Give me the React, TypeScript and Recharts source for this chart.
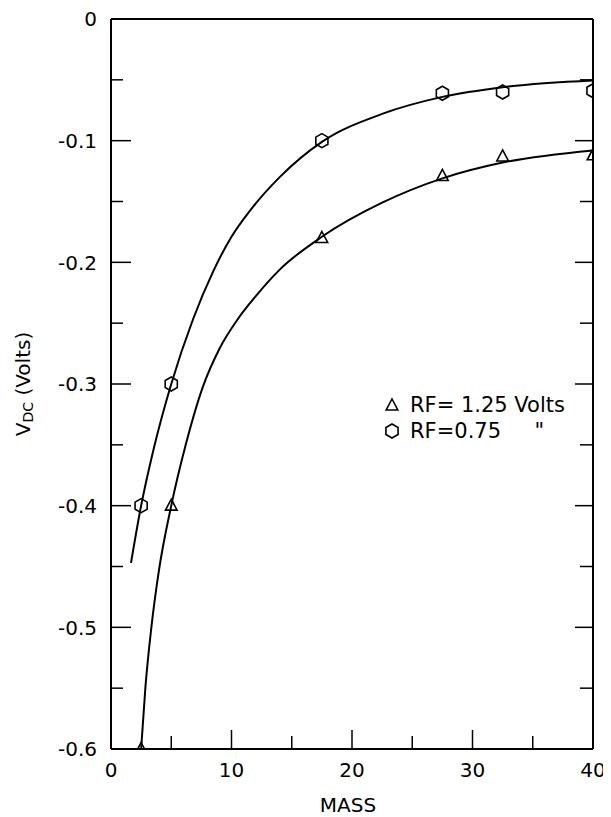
import { ComposedChart, Line, Scatter, XAxis, YAxis, Legend, Label } from 'recharts';

const FONT = '"DejaVu Sans", sans-serif';

// measured points
const MASS = [2.5, 5, 17.5, 27.5, 32.5, 40];
const VDC_RF125 = [-0.6, -0.4, -0.18, -0.129, -0.113, -0.112];
const VDC_RF075 = [-0.4, -0.3, -0.1, -0.061, -0.06, -0.059];

// hand-drawn fit curves
const FIT_RF125_MASS = [2.5, 2.85, 3.35, 3.95, 5, 6.2, 7.6, 9, 10.5, 12, 14, 17.5, 22.5, 27.5, 32.5, 40];
const FIT_RF125_VDC = [-0.6, -0.55, -0.5, -0.455, -0.4, -0.35, -0.303, -0.271, -0.247, -0.228, -0.206, -0.179, -0.151, -0.131, -0.118, -0.108];
const FIT_RF075_MASS = [1.66, 2.5, 3.5, 5, 6.8, 8.5, 10, 11.5, 14, 17.5, 22.5, 27.5, 32.5, 40];
const FIT_RF075_VDC = [-0.447, -0.4, -0.355, -0.3, -0.247, -0.207, -0.179, -0.158, -0.13, -0.101, -0.078, -0.064, -0.056, -0.0505];

const X_MAJOR = [0, 10, 20, 30, 40];
const X_MINOR = [5, 15, 25, 35];
const Y_MAJOR = [0, -0.1, -0.2, -0.3, -0.4, -0.5, -0.6];
const Y_MINOR = [-0.05, -0.15, -0.25, -0.35, -0.45, -0.55];

const SERIES_NAMES = ['RF= 1.25 Volts', 'RF=0.75     "'];

const toPoints = (xs: number[], ys: number[]) => xs.map((x, i) => ({ x, y: ys[i] }));

const Triangle = ({ cx, cy }: any) => (
  <path
    d={`M${cx},${cy - 6.5} L${cx + 5.8},${cy + 4.5} L${cx - 5.8},${cy + 4.5} Z`}
    fill="none"
    stroke="#000"
    strokeWidth={1.6}
  />
);

const Hexagon = ({ cx, cy }: any) => {
  const r = 7;
  const pts = [-90, -30, 30, 90, 150, 210]
    .map((a) => {
      const t = (a * Math.PI) / 180;
      return `${cx + r * Math.cos(t)},${cy + r * Math.sin(t)}`;
    })
    .join(' ');
  return <polygon points={pts} fill="none" stroke="#000" strokeWidth={1.6} />;
};

const isEnd = (v: number, arr: number[]) => v === arr[0] || v === arr[arr.length - 1];

const LeftTick = ({ x, y, payload }: any) => {
  const v = payload.value;
  const major = Y_MAJOR.includes(v);
  const len = major ? 20 : 12;
  return (
    <g>
      {!isEnd(v, Y_MAJOR) && <line x1={x} x2={x + len} y1={y} y2={y} stroke="#000" strokeWidth={1.5} />}
      {major && (
        <text x={x - 14} y={y} dy="0.36em" textAnchor="end" fontFamily={FONT} fontSize={20} fill="#000">
          {v === 0 ? '0' : v.toFixed(1)}
        </text>
      )}
    </g>
  );
};

const RightTick = ({ x, y, payload }: any) => {
  const v = payload.value;
  if (isEnd(v, Y_MAJOR)) return <g />;
  const len = Y_MAJOR.includes(v) ? 18 : 13;
  return <line x1={x} x2={x - len} y1={y} y2={y} stroke="#000" strokeWidth={1.5} />;
};

const BottomTick = ({ x, y, payload }: any) => {
  const v = payload.value;
  const major = X_MAJOR.includes(v);
  const len = major ? 19 : 13;
  return (
    <g>
      {!isEnd(v, X_MAJOR) && <line x1={x} x2={x} y1={y} y2={y - len} stroke="#000" strokeWidth={1.5} />}
      {major && (
        <text x={x} y={y + 28} textAnchor="middle" fontFamily={FONT} fontSize={20} fill="#000">
          {v}
        </text>
      )}
    </g>
  );
};

const TopTick = ({ x, y, payload }: any) => {
  const v = payload.value;
  const len = X_MAJOR.includes(v) ? 19 : 13;
  return <line x1={x} x2={x} y1={y} y2={y + len} stroke="#000" strokeWidth={1.5} />;
};

const MassLabel = ({ viewBox }: any) => (
  <text
    x={viewBox.x + viewBox.width / 2 - 4}
    y={viewBox.y + 63}
    textAnchor="middle"
    fontFamily={FONT}
    fontSize={20}
    fill="#000"
  >
    MASS
  </text>
);

const VdcLabel = ({ viewBox }: any) => {
  const cx = viewBox.x + 15;
  const cy = viewBox.y + viewBox.height / 2;
  return (
    <text
      x={cx}
      y={cy}
      transform={`rotate(-90 ${cx} ${cy})`}
      textAnchor="middle"
      dominantBaseline="central"
      fontFamily={FONT}
      fontSize={20}
      fill="#000"
    >
      V
      <tspan fontSize={14} dy={5}>DC</tspan>
      <tspan dy={-5}> (Volts)</tspan>
    </text>
  );
};

const renderLegend = () => (
  <div style={{ fontFamily: FONT, fontSize: 21, color: '#000' }}>
    {SERIES_NAMES.map((name, i) => (
      <div key={name} style={{ display: 'flex', alignItems: 'center', height: 26 }}>
        <svg width={16} height={16}>
          {i === 0 ? <Triangle cx={8} cy={8.5} /> : <Hexagon cx={8} cy={8} />}
        </svg>
        <span style={{ marginLeft: 10, whiteSpace: 'pre' }}>{name}</span>
      </div>
    ))}
  </div>
);

export default function App() {
  return (
    <ComposedChart width={603} height={809} margin={{ top: 10, right: 17, bottom: 0, left: 0 }}>
      <XAxis
        dataKey="x"
        type="number"
        domain={[0, 40]}
        ticks={[...X_MAJOR, ...X_MINOR]}
        interval={0}
        height={68}
        tickSize={0}
        tickMargin={0}
        tickLine={false}
        tick={BottomTick}
        axisLine={{ stroke: '#000', strokeWidth: 2 }}
        allowDataOverflow
      >
        <Label content={MassLabel} />
      </XAxis>
      <XAxis
        xAxisId="top"
        orientation="top"
        type="number"
        domain={[0, 40]}
        ticks={[...X_MAJOR.slice(1, -1), ...X_MINOR]}
        interval={0}
        height={1}
        tickSize={0}
        tickMargin={0}
        tickLine={false}
        tick={TopTick}
        axisLine={{ stroke: '#000', strokeWidth: 2 }}
        allowDataOverflow
      />
      <YAxis
        dataKey="y"
        type="number"
        domain={[-0.6, 0]}
        ticks={[...Y_MAJOR, ...Y_MINOR]}
        interval={0}
        width={103}
        tickSize={0}
        tickMargin={0}
        tickLine={false}
        tick={LeftTick}
        axisLine={{ stroke: '#000', strokeWidth: 2 }}
        allowDataOverflow
      >
        <Label content={VdcLabel} />
      </YAxis>
      <YAxis
        yAxisId="right"
        orientation="right"
        type="number"
        domain={[-0.6, 0]}
        ticks={[...Y_MAJOR.slice(1, -1), ...Y_MINOR]}
        interval={0}
        width={1}
        tickSize={0}
        tickMargin={0}
        tickLine={false}
        tick={RightTick}
        axisLine={{ stroke: '#000', strokeWidth: 2 }}
        allowDataOverflow
      />
      <Legend
        content={renderLegend}
        layout="vertical"
        align="center"
        verticalAlign="middle"
        wrapperStyle={{ left: 376, top: 384, width: 'auto' }}
      />
      <Line
        data={toPoints(FIT_RF125_MASS, FIT_RF125_VDC)}
        dataKey="y"
        type="monotone"
        stroke="#000"
        strokeWidth={2}
        dot={false}
        activeDot={false}
        legendType="none"
        isAnimationActive={false}
      />
      <Line
        data={toPoints(FIT_RF075_MASS, FIT_RF075_VDC)}
        dataKey="y"
        type="monotone"
        stroke="#000"
        strokeWidth={2}
        dot={false}
        activeDot={false}
        legendType="none"
        isAnimationActive={false}
      />
      <Scatter
        name={SERIES_NAMES[0]}
        data={toPoints(MASS, VDC_RF125)}
        shape={Triangle}
        isAnimationActive={false}
      />
      <Scatter
        name={SERIES_NAMES[1]}
        data={toPoints(MASS, VDC_RF075)}
        shape={Hexagon}
        isAnimationActive={false}
      />
    </ComposedChart>
  );
}
